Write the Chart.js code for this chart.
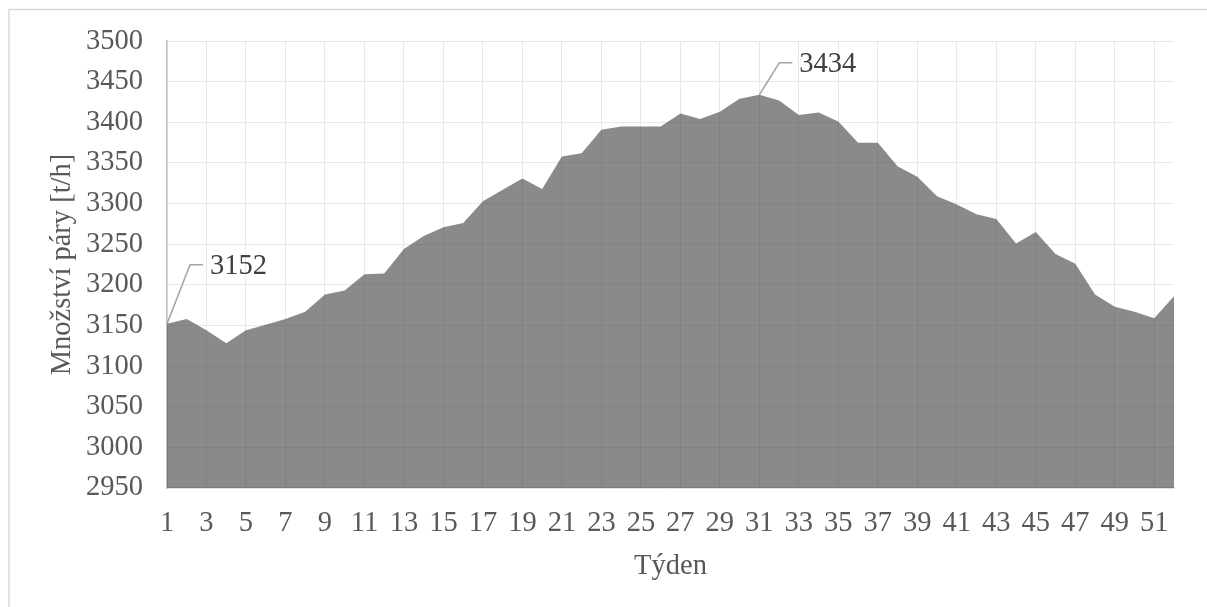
<!DOCTYPE html>
<html><head><meta charset="utf-8">
<script src="https://cdn.jsdelivr.net/npm/chart.js@4"></script>
<style>html,body{margin:0;padding:0;background:#fff}canvas{display:block}</style>
</head><body>
<canvas id="c" width="1207" height="607"></canvas>
<script>
const weeks = ['1','2','3','4','5','6','7','8','9','10','11','12','13','14','15','16','17','18','19','20','21','22','23','24','25','26','27','28','29','30','31','32','33','34','35','36','37','38','39','40','41','42','43','44','45','46','47','48','49','50','51','52'];
const steam = [3152,3158,3144,3128,3144,3151,3158,3167,3188,3193,3213,3214,3244,3260,3271,3276,3303,3317,3331,3318,3358,3362,3391,3395,3395,3395,3411,3404,3413,3429,3434,3427,3409,3412,3401,3375,3375,3346,3333,3309,3299,3287,3281,3251,3265,3238,3226,3188,3173,3167,3159,3186];
const yMin = 2950, yMax = 3500, yStep = 50;
const labeledWeeks = ['1','31'];
const xTitle = 'Týden';
const yTitle = 'Množství páry [t/h]';

const FONT = {family: "'Liberation Serif', 'Times New Roman', serif", size: 28.5, lineHeight: 1.2};
const TXT = '#595959';

const frame = {
  id: 'frame',
  beforeDraw(chart) {
    const ctx = chart.ctx;
    ctx.save();
    ctx.strokeStyle = '#d9d9d9';
    ctx.lineWidth = 1.5;
    ctx.strokeRect(9, 9.5, 1400, 800);
    ctx.restore();
  }
};

const callouts = {
  id: 'callouts',
  afterDatasetsDraw(chart) {
    const ctx = chart.ctx;
    const meta = chart.getDatasetMeta(0);
    const offs = {'1': {dx: 23, dy: -59}, '31': {dx: 20, dy: -32}};
    ctx.save();
    labeledWeeks.forEach(w => {
      const i = weeks.indexOf(w);
      const p = meta.data[i];
      const o = offs[w];
      ctx.strokeStyle = '#a6a6a6';
      ctx.lineWidth = 1.5;
      ctx.beginPath();
      ctx.moveTo(p.x, p.y);
      ctx.lineTo(p.x + o.dx, p.y + o.dy);
      ctx.lineTo(p.x + o.dx + 13, p.y + o.dy);
      ctx.stroke();
      ctx.fillStyle = '#404040';
      ctx.font = `${FONT.size}px ${FONT.family}`;
      ctx.textAlign = 'left';
      ctx.textBaseline = 'middle';
      ctx.fillText(String(steam[i]), p.x + o.dx + 20, p.y + o.dy + 2);
    });
    ctx.restore();
  }
};

new Chart(document.getElementById('c'), {
  type: 'line',
  data: {
    labels: weeks,
    datasets: [{
      data: steam,
      fill: 'start',
      backgroundColor: 'rgba(60,60,60,0.6)',
      borderWidth: 0,
      borderColor: 'rgba(0,0,0,0)',
      pointRadius: 0,
      tension: 0
    }]
  },
  options: {
    responsive: false,
    animation: false,
    layout: {padding: {left: 45, top: 39, right: 33, bottom: 0}},
    plugins: {legend: {display: false}, tooltip: {enabled: false}},
    scales: {
      x: {
        type: 'category',
        offset: false,
        grid: {color: c => (c.index % 2 === 0 ? '#e8e8e8' : 'rgba(0,0,0,0)'), drawTicks: false, lineWidth: 1},
        border: {color: '#d9d9d9', width: 1.5},
        ticks: {autoSkip: false, maxRotation: 0, minRotation: 0, padding: 18, color: TXT, font: FONT,
          callback: (v, i) => (i % 2 === 0 ? weeks[i] : '')},
        title: {display: true, text: xTitle, color: TXT, font: FONT, padding: {top: 0, bottom: 23}},
        afterFit: s => { s.height = 119; }
      },
      y: {
        min: yMin, max: yMax,
        grid: {color: '#e8e8e8', drawTicks: false, lineWidth: 1},
        border: {color: '#bfbfbf', width: 1.5},
        ticks: {stepSize: yStep, padding: 24, color: TXT, font: FONT, callback: v => String(v)},
        title: {display: true, text: yTitle, color: TXT, font: FONT, padding: {top: 0, bottom: 0}},
        afterFit: s => { s.width = 122; }
      }
    }
  },
  plugins: [frame, callouts]
});
</script>
</body></html>
